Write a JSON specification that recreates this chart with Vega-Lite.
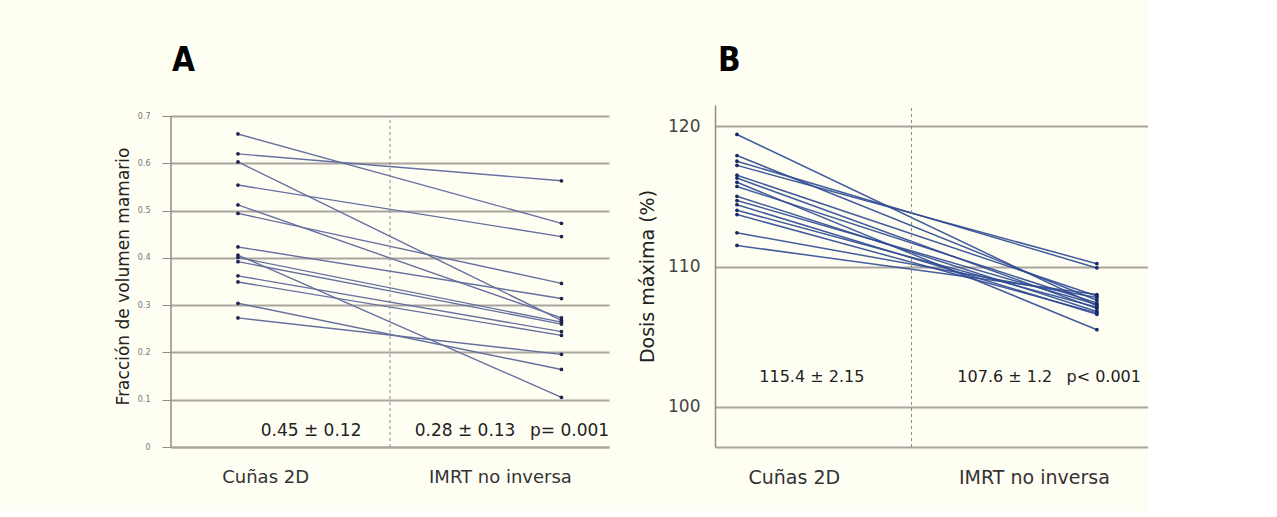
{
  "$schema": "https://vega.github.io/schema/vega-lite/v6.json",
  "background": "#fffef3",
  "padding": {"left": 114, "top": 44, "right": 0, "bottom": 24},
  "autosize": {"type": "pad"},
  "config": {
    "view": {"stroke": null},
    "font": "DejaVu Sans"
  },
  "spacing": 28,
  "datasets": {
    "A": [
      {"id": 1, "grupo": 1, "valor": 0.662}, {"id": 1, "grupo": 2, "valor": 0.473},
      {"id": 2, "grupo": 1, "valor": 0.620}, {"id": 2, "grupo": 2, "valor": 0.563},
      {"id": 3, "grupo": 1, "valor": 0.603}, {"id": 3, "grupo": 2, "valor": 0.268},
      {"id": 4, "grupo": 1, "valor": 0.554}, {"id": 4, "grupo": 2, "valor": 0.445},
      {"id": 5, "grupo": 1, "valor": 0.512}, {"id": 5, "grupo": 2, "valor": 0.273},
      {"id": 6, "grupo": 1, "valor": 0.494}, {"id": 6, "grupo": 2, "valor": 0.346},
      {"id": 7, "grupo": 1, "valor": 0.423}, {"id": 7, "grupo": 2, "valor": 0.314},
      {"id": 8, "grupo": 1, "valor": 0.406}, {"id": 8, "grupo": 2, "valor": 0.105},
      {"id": 9, "grupo": 1, "valor": 0.401}, {"id": 9, "grupo": 2, "valor": 0.264},
      {"id": 10, "grupo": 1, "valor": 0.392}, {"id": 10, "grupo": 2, "valor": 0.260},
      {"id": 11, "grupo": 1, "valor": 0.362}, {"id": 11, "grupo": 2, "valor": 0.244},
      {"id": 12, "grupo": 1, "valor": 0.349}, {"id": 12, "grupo": 2, "valor": 0.236},
      {"id": 13, "grupo": 1, "valor": 0.304}, {"id": 13, "grupo": 2, "valor": 0.164},
      {"id": 14, "grupo": 1, "valor": 0.273}, {"id": 14, "grupo": 2, "valor": 0.196}
    ],
    "B": [
      {"id": 1, "grupo": 1, "valor": 119.4}, {"id": 1, "grupo": 2, "valor": 107.2},
      {"id": 2, "grupo": 1, "valor": 117.9}, {"id": 2, "grupo": 2, "valor": 107.6},
      {"id": 3, "grupo": 1, "valor": 117.5}, {"id": 3, "grupo": 2, "valor": 109.9},
      {"id": 4, "grupo": 1, "valor": 117.2}, {"id": 4, "grupo": 2, "valor": 110.2},
      {"id": 5, "grupo": 1, "valor": 116.5}, {"id": 5, "grupo": 2, "valor": 107.9},
      {"id": 6, "grupo": 1, "valor": 116.3}, {"id": 6, "grupo": 2, "valor": 107.0},
      {"id": 7, "grupo": 1, "valor": 116.0}, {"id": 7, "grupo": 2, "valor": 105.5},
      {"id": 8, "grupo": 1, "valor": 115.7}, {"id": 8, "grupo": 2, "valor": 107.4},
      {"id": 9, "grupo": 1, "valor": 115.0}, {"id": 9, "grupo": 2, "valor": 106.8},
      {"id": 10, "grupo": 1, "valor": 114.7}, {"id": 10, "grupo": 2, "valor": 107.3},
      {"id": 11, "grupo": 1, "valor": 114.4}, {"id": 11, "grupo": 2, "valor": 106.6},
      {"id": 12, "grupo": 1, "valor": 114.0}, {"id": 12, "grupo": 2, "valor": 107.1},
      {"id": 13, "grupo": 1, "valor": 113.7}, {"id": 13, "grupo": 2, "valor": 106.7},
      {"id": 14, "grupo": 1, "valor": 112.4}, {"id": 14, "grupo": 2, "valor": 107.8},
      {"id": 15, "grupo": 1, "valor": 111.5}, {"id": 15, "grupo": 2, "valor": 108.0}
    ]
  },
  "hconcat": [
    {
      "width": 438,
      "height": 342,
      "title": {"text": "A", "anchor": "start", "frame": "group", "font": "'DejaVu Sans Condensed', 'Liberation Sans', sans-serif", "fontSize": 33, "fontWeight": "bold", "color": "#000000", "offset": 27, "dx": 1},
      "layer": [
        {
          "data": {"name": "A"},
          "mark": {"type": "line", "color": "#66709f", "strokeWidth": 1.4},
          "encoding": {
            "x": {"field": "grupo", "type": "quantitative", "scale": {"domain": [0.793, 2.147], "nice": false, "zero": false},
                  "axis": {"title": null, "values": [1.084, 1.81], "labelExpr": "datum.value < 1.5 ? 'Cuñas 2D' : 'IMRT no inversa'", "ticks": false, "grid": false, "labelFlush": false, "labelFontSize": 18, "labelColor": "#333333", "labelPadding": 21, "domainColor": "#a9a59d", "domainWidth": 2}},
            "y": {"field": "valor", "type": "quantitative", "scale": {"domain": [0, 0.7233], "nice": false, "zero": false},
                  "axis": {"title": "Fracción de volumen mamario", "values": [0, 0.1, 0.2, 0.3, 0.4, 0.5, 0.6, 0.7], "labelExpr": "datum.value == 0 ? '0' : format(datum.value, '.1f')", "grid": true, "gridColor": "#a9a59d", "gridWidth": 2, "domain": false, "ticks": true, "tickColor": "#8f8b85", "tickSize": 9, "labelFontSize": 8, "labelColor": "#777777", "labelPadding": 12, "titleFontSize": 17, "titleFontWeight": "normal", "titleColor": "#222222", "titlePadding": 5}},
            "detail": {"field": "id", "type": "nominal"}
          }
        },
        {
          "data": {"values": [{}]},
          "mark": {"type": "rule", "color": "#8f8b85", "strokeWidth": 1.5},
          "encoding": {"x": {"datum": 0.793}, "y": {"datum": 0}, "y2": {"datum": 0.7}}
        },
        {
          "data": {"values": [{}]},
          "mark": {"type": "rule", "color": "#8a8a8a", "strokeWidth": 1, "strokeDash": [3, 3]},
          "encoding": {"x": {"datum": 1.47}, "y": {"datum": 0}, "y2": {"datum": 0.7}}
        },
        {
          "data": {"name": "A"},
          "mark": {"type": "point", "filled": true, "color": "#1d2550", "size": 14, "opacity": 1},
          "encoding": {
            "x": {"field": "grupo", "type": "quantitative"},
            "y": {"field": "valor", "type": "quantitative"}
          }
        },
        {
          "data": {"values": [{"t": "0.45 ± 0.12"}]},
          "mark": {"type": "text", "fontSize": 17, "color": "#222222", "baseline": "middle"},
          "encoding": {"x": {"datum": 1.226}, "y": {"datum": 0.034}, "text": {"field": "t"}}
        },
        {
          "data": {"values": [{"t": "0.28 ± 0.13"}]},
          "mark": {"type": "text", "fontSize": 17, "color": "#222222", "baseline": "middle"},
          "encoding": {"x": {"datum": 1.702}, "y": {"datum": 0.034}, "text": {"field": "t"}}
        },
        {
          "data": {"values": [{"t": "p= 0.001"}]},
          "mark": {"type": "text", "fontSize": 17, "color": "#222222", "baseline": "middle"},
          "encoding": {"x": {"datum": 2.025}, "y": {"datum": 0.034}, "text": {"field": "t"}}
        }
      ]
    },
    {
      "width": 433,
      "height": 342,
      "title": {"text": "B", "anchor": "start", "frame": "group", "font": "'DejaVu Sans Condensed', 'Liberation Sans', sans-serif", "fontSize": 33, "fontWeight": "bold", "color": "#000000", "offset": 27, "dx": 3},
      "layer": [
        {
          "data": {"name": "B"},
          "mark": {"type": "line", "color": "#2e4a94", "strokeWidth": 1.5, "opacity": 0.9},
          "encoding": {
            "x": {"field": "grupo", "type": "quantitative", "scale": {"domain": [0.939, 2.142], "nice": false, "zero": false},
                  "axis": {"title": null, "values": [1.158, 1.825], "labelExpr": "datum.value < 1.5 ? 'Cuñas 2D' : 'IMRT no inversa'", "ticks": false, "grid": false, "labelFlush": false, "labelFontSize": 19, "labelColor": "#333333", "labelPadding": 21, "domainColor": "#a9a59d", "domainWidth": 2}},
            "y": {"field": "valor", "type": "quantitative", "scale": {"domain": [97.15, 121.5], "nice": false, "zero": false},
                  "axis": {"title": "Dosis máxima (%)", "values": [100, 110, 120], "grid": true, "gridColor": "#a9a59d", "gridWidth": 2, "domain": true, "domainColor": "#8f8b85", "domainWidth": 1.5, "ticks": false, "labelFontSize": 17, "labelColor": "#444444", "labelPadding": 15, "titleFontSize": 19, "titleFontWeight": "normal", "titleColor": "#222222", "titlePadding": 10}},
            "detail": {"field": "id", "type": "nominal"}
          }
        },
        {
          "data": {"values": [{}]},
          "mark": {"type": "rule", "color": "#8a8a8a", "strokeWidth": 1, "strokeDash": [3, 3]},
          "encoding": {"x": {"datum": 1.485}, "y": {"datum": 97.15}, "y2": {"datum": 121.5}}
        },
        {
          "data": {"name": "B"},
          "mark": {"type": "point", "filled": true, "color": "#1a2a66", "size": 14, "opacity": 1},
          "encoding": {
            "x": {"field": "grupo", "type": "quantitative"},
            "y": {"field": "valor", "type": "quantitative"}
          }
        },
        {
          "data": {"values": [{"t": "115.4 ± 2.15"}]},
          "mark": {"type": "text", "fontSize": 16, "color": "#222222", "baseline": "middle"},
          "encoding": {"x": {"datum": 1.208}, "y": {"datum": 102.12}, "text": {"field": "t"}}
        },
        {
          "data": {"values": [{"t": "107.6 ± 1.2"}]},
          "mark": {"type": "text", "fontSize": 16, "color": "#222222", "baseline": "middle"},
          "encoding": {"x": {"datum": 1.744}, "y": {"datum": 102.12}, "text": {"field": "t"}}
        },
        {
          "data": {"values": [{"t": "p< 0.001"}]},
          "mark": {"type": "text", "fontSize": 16, "color": "#222222", "baseline": "middle"},
          "encoding": {"x": {"datum": 2.019}, "y": {"datum": 102.12}, "text": {"field": "t"}}
        }
      ]
    }
  ]
}
